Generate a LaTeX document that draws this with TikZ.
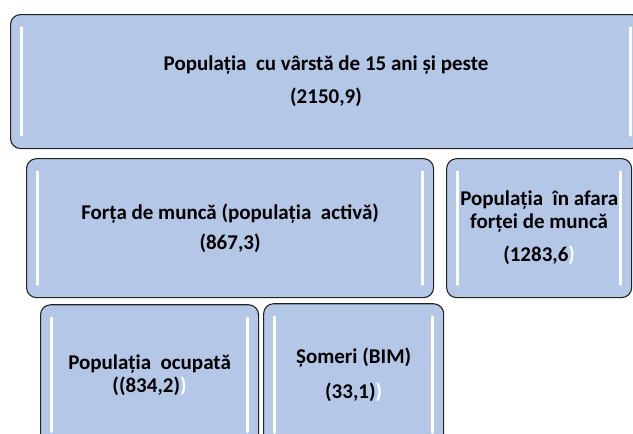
\documentclass[tikz,border=0pt]{standalone}
\usepackage{fontspec}
\setmainfont{Carlito}
\usetikzlibrary{positioning}
\definecolor{cellfill}{HTML}{B4C7E7}
\definecolor{cellline}{HTML}{222222}

\begin{document}
\begin{tikzpicture}[x=1pt,y=-1pt,node distance=6pt and 12pt,
  every node/.style={align=center,font=\fontsize{21}{23}\selectfont\bfseries},
  cell/.style={draw=cellline,line width=1.1pt,rounded corners=10pt,fill=cellfill,inner sep=0pt,
    path picture={
      \draw[white,line width=2.4pt,line cap=round] ([xshift=11pt,yshift=-13pt]path picture bounding box.north west) -- ([xshift=11pt,yshift=13pt]path picture bounding box.south west);
      \draw[white,line width=2.4pt,line cap=round] ([xshift=-11pt,yshift=-13pt]path picture bounding box.north east) -- ([xshift=-11pt,yshift=13pt]path picture bounding box.south east);}}]
\useasboundingbox (0,0) rectangle (633,434);
\node[cell,minimum width=631pt,minimum height=134pt,anchor=north west] (total) at (10,14) {Populația\ \ cu vârstă de 15 ani și peste\\[10pt](2150,9)};
\node[cell,minimum width=407pt,minimum height=139pt,below right=9pt and 16pt of total.south west] (activa) {Forța de muncă (populația\ \ activă)\\[7pt](867,3)};
\node[cell,minimum width=185pt,minimum height=139pt,right=12pt of activa] (inactiva) {Populația\ \ în afara\\forței de muncă\\[10pt](1283,6\textcolor{white}{)}};
\node[cell,minimum width=218pt,minimum height=140pt,below right=6pt and 14pt of activa.south west] (ocupata) {Populația\ \ ocupată\\((834,2)\textcolor{white}{)}};
\node[cell,minimum width=180pt,minimum height=142pt,right=4pt of ocupata] (someri) {Șomeri (BIM)\\[12pt](33,1)\textcolor{white}{)}};
\end{tikzpicture}
\end{document}
